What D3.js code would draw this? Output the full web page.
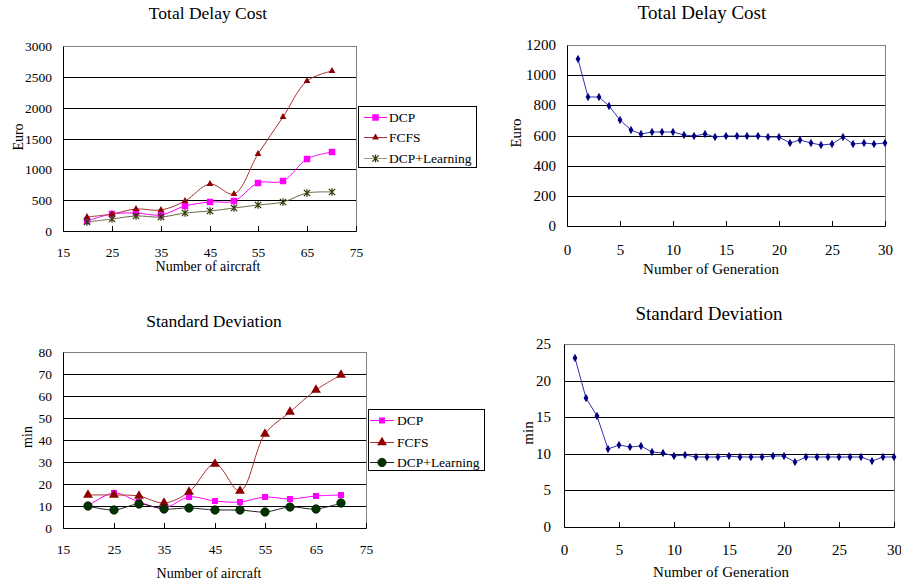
<!DOCTYPE html>
<html lang="en">
<head>
<meta charset="UTF-8">
<title>Total Delay Cost / Standard Deviation</title>
<script src="https://d3js.org/d3.v7.min.js"></script>
<style>
  body { margin: 0; background: #fff; }
  svg, svg text { font-family: "Liberation Serif", "DejaVu Serif", serif; fill: #000; }
</style>
</head>
<body>
<script>
// canvas
var width = 901,
    height = 584;
var serif = "'Liberation Serif', 'DejaVu Serif', serif";

// left charts: number of aircraft
var aircraft = [20, 25, 30, 35, 40, 45, 50, 55, 60, 65, 70];
var costDCP = [160, 280, 300, 255, 410, 475, 480, 775, 815, 1160, 1280];
var costFCFS = [230, 275, 355, 335, 490, 768, 595, 1243, 1843, 2432, 2589];
var costLearning = [140, 195, 250, 222, 292, 330, 368, 416, 470, 611, 638];

var sdDCP = [9.8, 15.8, 11.8, 9.2, 14.3, 12.1, 11.6, 14.3, 13.3, 14.6, 15.2];
var sdFCFS = [14.9, 15.2, 14.5, 11.3, 16.3, 29.3, 16.6, 42.7, 52.7, 62.9, 69.4];
var sdLearning = [9.8, 8.3, 10.9, 8.6, 9.1, 8.0, 8.2, 7.4, 9.5, 8.6, 11.5];

// right charts: generations
var generation = [1, 2, 3, 4, 5, 6, 7, 8, 9, 10, 11, 12, 13, 14, 15,
                  16, 17, 18, 19, 20, 21, 22, 23, 24, 25, 26, 27, 28, 29, 30];
var genCost = [1108, 855, 852, 797, 700, 634, 607, 621, 620, 620, 603, 598, 607, 588, 598,
               598, 598, 598, 590, 590, 550, 568, 550, 535, 546, 590, 541, 548, 541, 548];
var genSD = [23.1, 17.6, 15.1, 10.6, 11.2, 10.9, 11.0, 10.3, 10.1, 9.7, 9.9, 9.6, 9.6, 9.6, 9.7,
             9.5, 9.5, 9.5, 9.7, 9.7, 8.9, 9.6, 9.5, 9.6, 9.5, 9.5, 9.5, 9.0, 9.5, 9.5];

// tick values
var aircraftTicks = [15, 25, 35, 45, 55, 65, 75];
var genTicks = [0, 5, 10, 15, 20, 25, 30];
var costTicks = [0, 500, 1000, 1500, 2000, 2500, 3000];
var sdTicks = [0, 10, 20, 30, 40, 50, 60, 70, 80];
var genCostTicks = [0, 200, 400, 600, 800, 1000, 1200];
var genSDTicks = [0, 5, 10, 15, 20, 25];

var svg = d3.select("body").append("svg")
    .attr("width", width)
    .attr("height", height)
    .attr("font-family", serif);

// Excel style asterisk marker: X plus vertical bar
var symbolStar = {
  draw: function(context, size) {
    var r = Math.sqrt(size) / 2;
    context.moveTo(-r, -r); context.lineTo(r, r);
    context.moveTo(-r, r); context.lineTo(r, -r);
    context.moveTo(0, -r * 1.2); context.lineTo(0, r * 1.2);
  }
};

function zip(xs, ys) {
  return xs.map(function(v, i) { return [v, ys[i]]; });
}

function drawMarker(g, s, px, py) {
  var m = g.append("path")
      .attr("transform", "translate(" + px + "," + py + ")")
      .attr("d", d3.symbol().type(s.symbol).size(s.size)());
  if (s.strokeMarker) {
    m.attr("fill", "none").attr("stroke", s.marker).attr("stroke-width", 1.2);
  } else {
    m.attr("fill", s.marker).attr("stroke", s.markerStroke || "none").attr("stroke-width", 0.8);
  }
}

function chart(c) {
  var g = svg.append("g");
  var x = d3.scaleLinear().domain(c.xDomain).rangeRound([c.left, c.right]);
  var y = d3.scaleLinear().domain(c.yDomain).rangeRound([c.bottom, c.top]);

  // plot area border
  g.append("rect")
      .attr("x", c.left + 0.5).attr("y", c.top + 0.5)
      .attr("width", c.right - c.left).attr("height", c.bottom - c.top)
      .attr("fill", "#fff").attr("stroke", "#808080");

  // horizontal gridlines
  var grid = g.append("g")
      .attr("transform", "translate(" + c.left + ",0)")
      .call(d3.axisLeft(y)
        .tickValues(c.yTicks.slice(1, -1))
        .tickSize(-(c.right - c.left))
        .tickFormat(""));
  grid.select(".domain").remove();
  grid.selectAll("line").attr("stroke", "#000");

  // y axis
  var ya = g.append("g")
      .attr("transform", "translate(" + c.left + ",0)")
      .call(d3.axisLeft(y).tickValues(c.yTicks).tickFormat(d3.format("d"))
        .tickSize(0).tickPadding(c.yPad));
  ya.attr("font-family", serif);
  ya.select(".domain").attr("stroke", "#000");
  ya.selectAll("text").attr("font-size", c.tickFont).attr("font-family", serif);

  // x axis, ticks pointing inward
  var xa = g.append("g")
      .attr("transform", "translate(0," + c.bottom + ")")
      .call(d3.axisBottom(x).tickValues(c.xTicks).tickFormat(d3.format("d"))
        .tickSizeInner(-5).tickSizeOuter(0));
  xa.attr("font-family", serif);
  xa.select(".domain").attr("stroke", "#000");
  xa.selectAll("line").attr("stroke", "#000");
  xa.selectAll("text")
      .attr("font-size", c.tickFont).attr("font-family", serif)
      .attr("y", c.xLabelY).attr("dy", 0);

  // series
  c.series.forEach(function(s) {
    var pts = zip(c.xs, s.values);
    g.append("path")
        .datum(pts)
        .attr("fill", "none")
        .attr("stroke", s.line)
        .attr("stroke-width", 1)
        .attr("d", d3.line()
          .x(function(d) { return x(d[0]); })
          .y(function(d) { return y(d[1]); })
          .curve(c.curve));
    pts.forEach(function(d) { drawMarker(g, s, x(d[0]), y(d[1])); });
  });

  // titles
  g.append("text")
      .attr("x", c.titleX).attr("y", c.titleY)
      .attr("text-anchor", "middle").attr("font-size", c.titleFont)
      .text(c.title);
  g.append("text")
      .attr("x", c.xTitleX).attr("y", c.xTitleY)
      .attr("text-anchor", "middle").attr("font-size", c.axisFont)
      .text(c.xTitle);
  g.append("text")
      .attr("transform", "translate(" + c.yTitleX + "," + c.yTitleY + ") rotate(-90)")
      .attr("text-anchor", "middle").attr("dy", "0.35em").attr("font-size", c.axisFont)
      .text(c.yTitle);

  // legend
  if (c.legend) {
    var L = c.legend;
    var lg = svg.append("g");
    lg.append("rect")
        .attr("x", L.x + 0.5).attr("y", L.y + 0.5)
        .attr("width", L.w).attr("height", L.h)
        .attr("fill", "#fff").attr("stroke", "#000");
    c.series.forEach(function(s, i) {
      var ey = L.rows[i];
      lg.append("line")
          .attr("x1", L.lineX1).attr("x2", L.lineX2)
          .attr("y1", ey + 0.5).attr("y2", ey + 0.5)
          .attr("stroke", s.legendLine || s.line);
      drawMarker(lg, s, (L.lineX1 + L.lineX2) / 2, ey + 0.5);
      lg.append("text")
          .attr("x", L.textX).attr("y", ey).attr("dy", "0.35em")
          .attr("font-size", 13.5)
          .text(s.name);
    });
  }
}

var smooth = d3.curveCatmullRom.alpha(0.5);

chart({
  left: 63, right: 356, top: 46, bottom: 231,
  xDomain: [15, 75], yDomain: [0, 3000],
  xTicks: aircraftTicks, yTicks: costTicks,
  xs: aircraft, curve: smooth,
  tickFont: 13.5, titleFont: 17.5, axisFont: 14,
  yPad: 11, xLabelY: 26,
  title: "Total Delay Cost", titleX: 208, titleY: 19,
  xTitle: "Number of aircraft", xTitleX: 208, xTitleY: 271,
  yTitle: "Euro", yTitleX: 18, yTitleY: 137,
  series: [
    { name: "DCP", values: costDCP, line: "#ff00ff", marker: "#ff00ff", symbol: d3.symbolSquare, size: 42 },
    { name: "FCFS", values: costFCFS, line: "#a83232", marker: "#8b0000", symbol: d3.symbolTriangle, size: 20 },
    { name: "DCP+Learning", values: costLearning, line: "#6b6b48", legendLine: "#9c9c80", marker: "#333300",
      symbol: symbolStar, size: 40, strokeMarker: true }
  ],
  legend: { x: 358, y: 106, w: 118, h: 61, rows: [117, 137, 158], lineX1: 364, lineX2: 387, textX: 389 }
});

chart({
  left: 567, right: 885, top: 45, bottom: 226,
  xDomain: [0, 30], yDomain: [0, 1200],
  xTicks: genTicks, yTicks: genCostTicks,
  xs: generation, curve: d3.curveLinear,
  tickFont: 15, titleFont: 19, axisFont: 15,
  yPad: 11, xLabelY: 29,
  title: "Total Delay Cost", titleX: 702, titleY: 19,
  xTitle: "Number of Generation", xTitleX: 711, xTitleY: 274,
  yTitle: "Euro", yTitleX: 516, yTitleY: 133,
  series: [
    { name: "Generation", values: genCost, line: "#3333aa", marker: "#000080", symbol: d3.symbolDiamond, size: 20 }
  ]
});

chart({
  left: 63, right: 366, top: 352, bottom: 528,
  xDomain: [15, 75], yDomain: [0, 80],
  xTicks: aircraftTicks, yTicks: sdTicks,
  xs: aircraft, curve: smooth,
  tickFont: 13.5, titleFont: 17.5, axisFont: 14,
  yPad: 11, xLabelY: 26,
  title: "Standard Deviation", titleX: 214, titleY: 327,
  xTitle: "Number of aircraft", xTitleX: 209, xTitleY: 578,
  yTitle: "min", yTitleX: 27, yTitleY: 437,
  series: [
    { name: "DCP", values: sdDCP, line: "#ff00ff", marker: "#ff00ff", symbol: d3.symbolSquare, size: 36 },
    { name: "FCFS", values: sdFCFS, line: "#a83232", marker: "#8b0000", symbol: d3.symbolTriangle, size: 42 },
    { name: "DCP+Learning", values: sdLearning, line: "#222222", marker: "#003300", markerStroke: "#001a00",
      symbol: d3.symbolCircle, size: 55 }
  ],
  legend: { x: 368, y: 409, w: 116, h: 61, rows: [420, 442, 462], lineX1: 370, lineX2: 394, textX: 397 }
});

chart({
  left: 564, right: 894, top: 344, bottom: 527,
  xDomain: [0, 30], yDomain: [0, 25],
  xTicks: genTicks, yTicks: genSDTicks,
  xs: generation, curve: d3.curveLinear,
  tickFont: 15, titleFont: 19, axisFont: 15,
  yPad: 13, xLabelY: 28,
  title: "Standard Deviation", titleX: 709, titleY: 320,
  xTitle: "Number of Generation", xTitleX: 721, xTitleY: 577,
  yTitle: "min", yTitleX: 528, yTitleY: 433,
  series: [
    { name: "Generation", values: genSD, line: "#3333aa", marker: "#000080", symbol: d3.symbolDiamond, size: 20 }
  ]
});
</script>
</body>
</html>
